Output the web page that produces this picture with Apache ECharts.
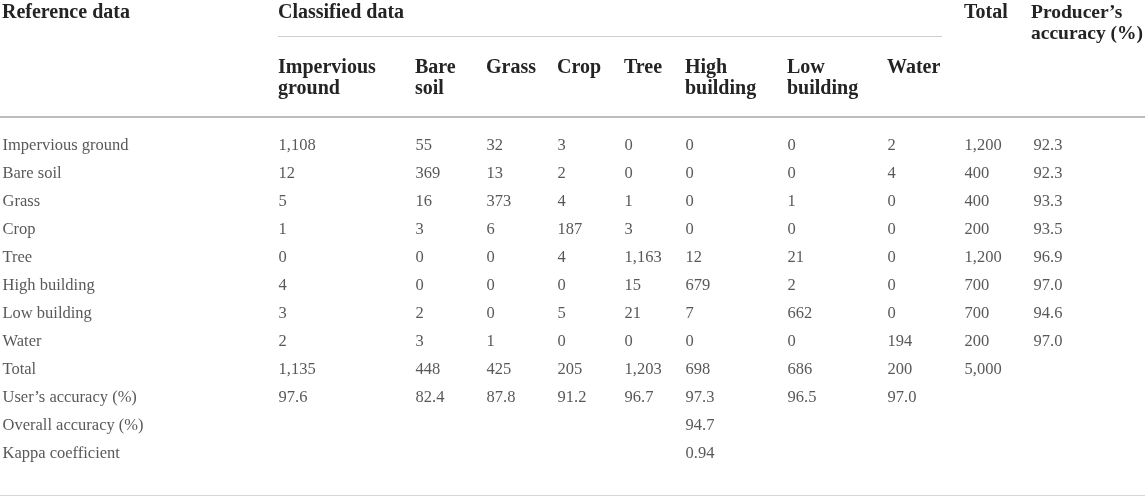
<!DOCTYPE html>
<html>
<head>
<meta charset="utf-8">
<style>
html,body{margin:0;padding:0;background:#fff;}
#main{width:1145px;height:497px;}
</style>
<script src="https://cdn.jsdelivr.net/npm/echarts@6/dist/echarts.min.js"></script>
</head>
<body>
<div id="main"></div>
<script>
// ---- data ----
var classNames = ['Impervious ground', 'Bare soil', 'Grass', 'Crop', 'Tree', 'High building', 'Low building', 'Water'];
var headerClassLabels = ['Impervious\nground', 'Bare\nsoil', 'Grass', 'Crop', 'Tree', 'High\nbuilding', 'Low\nbuilding', 'Water'];
var rowImpervious = [1108, 55, 32, 3, 0, 0, 0, 2];
var rowBareSoil   = [12, 369, 13, 2, 0, 0, 0, 4];
var rowGrass      = [5, 16, 373, 4, 1, 0, 1, 0];
var rowCrop       = [1, 3, 6, 187, 3, 0, 0, 0];
var rowTree       = [0, 0, 0, 4, 1163, 12, 21, 0];
var rowHigh       = [4, 0, 0, 0, 15, 679, 2, 0];
var rowLow        = [3, 2, 0, 5, 21, 7, 662, 0];
var rowWater      = [2, 3, 1, 0, 0, 0, 0, 194];
var rowTotals     = [1200, 400, 400, 200, 1200, 700, 700, 200];
var producersAcc  = [92.3, 92.3, 93.3, 93.5, 96.9, 97.0, 94.6, 97.0];
var columnTotals  = [1135, 448, 425, 205, 1203, 698, 686, 200];
var grandTotal    = 5000;
var usersAcc      = [97.6, 82.4, 87.8, 91.2, 96.7, 97.3, 96.5, 97.0];
var overallAcc    = 94.7;
var kappa         = 0.94;
var extraRowLabels = ['Total', 'User\u2019s accuracy (%)', 'Overall accuracy (%)', 'Kappa coefficient'];

// ---- layout (positions only) ----
var colX = [2, 278, 415, 486, 557, 624, 685, 787, 887, 964, 1033]; // label col, 8 classes, total, PA
var FONT = '"Liberation Serif", "Times New Roman", serif';

var matrix = [rowImpervious, rowBareSoil, rowGrass, rowCrop, rowTree, rowHigh, rowLow, rowWater];
var rowLabels = classNames.concat(extraRowLabels);

function fmtInt(v) { return v.toLocaleString('en-US'); }

var cells = [];
function addCell(col, row, text) {
  cells.push({ value: [colX[col], row], text: text });
}
rowLabels.forEach(function (lab, r) { addCell(0, r, lab); });
matrix.forEach(function (row, r) {
  row.forEach(function (v, c) { addCell(c + 1, r, fmtInt(v)); });
  addCell(9, r, fmtInt(rowTotals[r]));
  addCell(10, r, producersAcc[r].toFixed(1));
});
columnTotals.forEach(function (v, c) { addCell(c + 1, 8, fmtInt(v)); });
addCell(9, 8, fmtInt(grandTotal));
usersAcc.forEach(function (v, c) { addCell(c + 1, 9, v.toFixed(1)); });
addCell(6, 10, overallAcc.toFixed(1));
addCell(6, 11, kappa.toFixed(2));

// header graphics
function headText(x, y, text, size) {
  return { type: 'text', x: x, y: y, silent: true,
    style: { text: text, font: 'bold ' + (size || 20) + 'px ' + FONT, fill: '#242424',
      lineHeight: 21, verticalAlign: 'top', align: 'left' } };
}
var graphics = [];
graphics.push(headText(colX[0], 2, 'Reference data'));
graphics.push(headText(colX[1], 2, 'Classified data'));
graphics.push(headText(colX[9], 2, 'Total'));
graphics.push(headText(colX[10] - 2, 2, 'Producer\u2019s\naccuracy (%)', 19.5));
headerClassLabels.forEach(function (t, i) {
  graphics.push(headText(colX[i + 1], 57, t));
});
graphics.push({ type: 'line', silent: true, shape: { x1: colX[1], y1: 36.5, x2: 942, y2: 36.5 }, style: { stroke: '#cfcfcf', lineWidth: 1 } });
graphics.push({ type: 'line', silent: true, shape: { x1: 0, y1: 117, x2: 1145, y2: 117 }, style: { stroke: '#bdbdbd', lineWidth: 2 } });
graphics.push({ type: 'line', silent: true, shape: { x1: 0, y1: 495.5, x2: 1145, y2: 495.5 }, style: { stroke: '#d6d6d6', lineWidth: 1 } });

var chart = echarts.init(document.getElementById('main'), null, { renderer: 'canvas' });
chart.setOption({
  backgroundColor: '#ffffff',
  animation: false,
  grid: { left: 0, right: 0, top: 132, height: 336 },
  xAxis: { type: 'value', min: 0, max: 1145, show: false },
  yAxis: { type: 'category', data: rowLabels, inverse: true, show: false },
  graphic: graphics,
  series: [{
    type: 'scatter',
    silent: true,
    symbolSize: 1,
    itemStyle: { color: 'rgba(0,0,0,0)' },
    data: cells,
    label: {
      show: true,
      position: 'right',
      distance: 0,
      formatter: function (p) { return p.data.text; },
      fontFamily: FONT,
      fontSize: 16.5,
      color: '#2e2e2e'
    }
  }]
});
</script>
</body>
</html>
